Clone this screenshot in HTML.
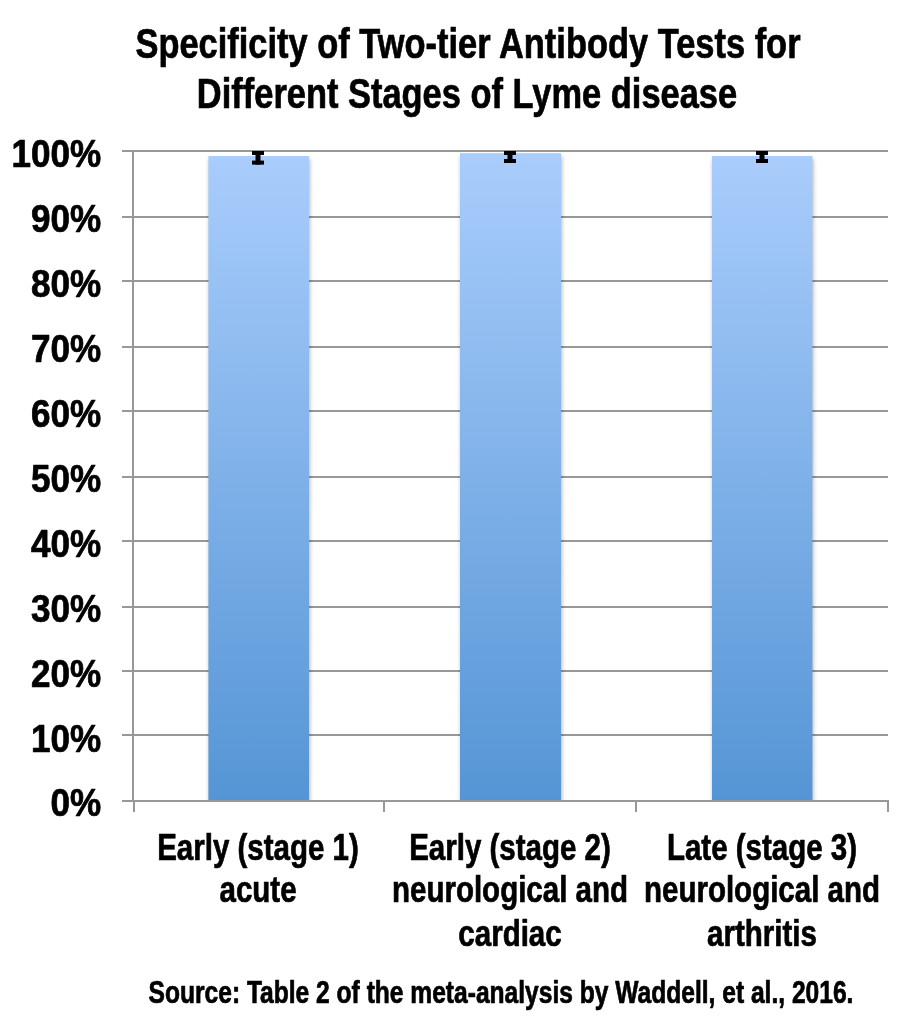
<!DOCTYPE html>
<html lang="en">
<head>
<meta charset="utf-8">
<title>Specificity of Two-tier Antibody Tests for Different Stages of Lyme disease</title>
<style>
html,body{margin:0;padding:0;background:#fff;}
body{width:914px;height:1022px;overflow:hidden;}
svg{display:block;}
text{font-family:"Liberation Sans",sans-serif;font-weight:bold;fill:#000;stroke:#000;stroke-width:.7px;stroke-linejoin:round;}
.ttl{font-size:42px;}
.yl{font-size:36px;}
.cat{font-size:36px;}
.src{font-size:30px;}
</style>
</head>
<body>
<svg width="914" height="1022" viewBox="0 0 914 1022">
<defs>
<linearGradient id="bg" x1="0" y1="0" x2="0" y2="1">
<stop offset="0" stop-color="#a9cdfc"/>
<stop offset="1" stop-color="#5595d5"/>
</linearGradient>
<clipPath id="pc"><rect x="134" y="140" width="754" height="660"/></clipPath>
<filter id="sh" x="-10%" y="-5%" width="120%" height="110%">
<feGaussianBlur stdDeviation="2"/>
</filter>
</defs>
<rect width="914" height="1022" fill="#fff"/>
<!-- title -->
<text class="ttl" text-anchor="middle" transform="translate(468 57.6) scale(0.82 1.02)">Specificity of Two-tier Antibody Tests for</text>
<text class="ttl" text-anchor="middle" transform="translate(467 108) scale(0.82 1.02)">Different Stages of Lyme disease</text>
<!-- gridlines -->
<g stroke="#989898" stroke-width="2" fill="none">
<line x1="122" y1="151" x2="888" y2="151"/>
<line x1="122" y1="217" x2="888" y2="217"/>
<line x1="122" y1="281" x2="888" y2="281"/>
<line x1="122" y1="347" x2="888" y2="347"/>
<line x1="122" y1="411" x2="888" y2="411"/>
<line x1="122" y1="477" x2="888" y2="477"/>
<line x1="122" y1="541" x2="888" y2="541"/>
<line x1="122" y1="607" x2="888" y2="607"/>
<line x1="122" y1="671" x2="888" y2="671"/>
<line x1="122" y1="735" x2="888" y2="735"/>
<line x1="122" y1="801" x2="888" y2="801"/>
<line x1="133" y1="150" x2="133" y2="802"/>
<line x1="134" y1="801" x2="134" y2="812"/>
<line x1="384" y1="801" x2="384" y2="812"/>
<line x1="636" y1="801" x2="636" y2="812"/>
<line x1="888" y1="800" x2="888" y2="812"/>
</g>
<!-- bars -->
<g>
<g clip-path="url(#pc)">
<rect x="209.2" y="159" width="100.6" height="654" fill="#000" opacity=".3" filter="url(#sh)"/>
<rect x="460.8" y="156.2" width="101" height="656.8" fill="#000" opacity=".3" filter="url(#sh)"/>
<rect x="712.8" y="159" width="100.4" height="654" fill="#000" opacity=".3" filter="url(#sh)"/>
</g>
<rect x="208.4" y="156" width="100.6" height="644" fill="url(#bg)"/>
<rect x="460" y="153.2" width="101" height="646.8" fill="url(#bg)"/>
<rect x="712" y="156" width="100.4" height="644" fill="url(#bg)"/>
</g>
<!-- error bars -->
<g fill="#000">
<rect x="252" y="151" width="12" height="4"/><rect x="255.5" y="151" width="5" height="13.6"/><rect x="252" y="160.6" width="12" height="4"/>
<rect x="504" y="151" width="12" height="4"/><rect x="507.5" y="151" width="5" height="12"/><rect x="504" y="159" width="12" height="4"/>
<rect x="756" y="151" width="12" height="4"/><rect x="759.5" y="151" width="5" height="12"/><rect x="756" y="159" width="12" height="4"/>
</g>
<!-- y labels -->
<text class="yl" text-anchor="end" transform="translate(101.3 166.9) scale(0.975 1.07)">100%</text>
<text class="yl" text-anchor="end" transform="translate(101.3 231.9) scale(0.975 1.07)">90%</text>
<text class="yl" text-anchor="end" transform="translate(101.3 296.8) scale(0.975 1.07)">80%</text>
<text class="yl" text-anchor="end" transform="translate(101.3 361.8) scale(0.975 1.07)">70%</text>
<text class="yl" text-anchor="end" transform="translate(101.3 426.7) scale(0.975 1.07)">60%</text>
<text class="yl" text-anchor="end" transform="translate(101.3 491.6) scale(0.975 1.07)">50%</text>
<text class="yl" text-anchor="end" transform="translate(101.3 556.6) scale(0.975 1.07)">40%</text>
<text class="yl" text-anchor="end" transform="translate(101.3 621.6) scale(0.975 1.07)">30%</text>
<text class="yl" text-anchor="end" transform="translate(101.3 686.5) scale(0.975 1.07)">20%</text>
<text class="yl" text-anchor="end" transform="translate(101.3 751.5) scale(0.975 1.07)">10%</text>
<text class="yl" text-anchor="end" transform="translate(101.3 816.4) scale(0.975 1.07)">0%</text>
<!-- category labels -->
<text class="cat" text-anchor="middle" transform="translate(258 860) scale(0.82 1.02)">Early (stage 1)</text>
<text class="cat" text-anchor="middle" transform="translate(258 902) scale(0.82 1.02)">acute</text>
<text class="cat" text-anchor="middle" transform="translate(510 860) scale(0.82 1.02)">Early (stage 2)</text>
<text class="cat" text-anchor="middle" transform="translate(510 902) scale(0.82 1.02)">neurological and</text>
<text class="cat" text-anchor="middle" transform="translate(510 946) scale(0.82 1.02)">cardiac</text>
<text class="cat" text-anchor="middle" transform="translate(762 860) scale(0.82 1.02)">Late (stage 3)</text>
<text class="cat" text-anchor="middle" transform="translate(762 902) scale(0.82 1.02)">neurological and</text>
<text class="cat" text-anchor="middle" transform="translate(762 946) scale(0.82 1.02)">arthritis</text>
<!-- source -->
<text class="src" text-anchor="middle" transform="translate(501 1003) scale(0.82 1.03)">Source: Table 2 of the meta-analysis by Waddell, et al., 2016.</text>
</svg>
</body>
</html>
